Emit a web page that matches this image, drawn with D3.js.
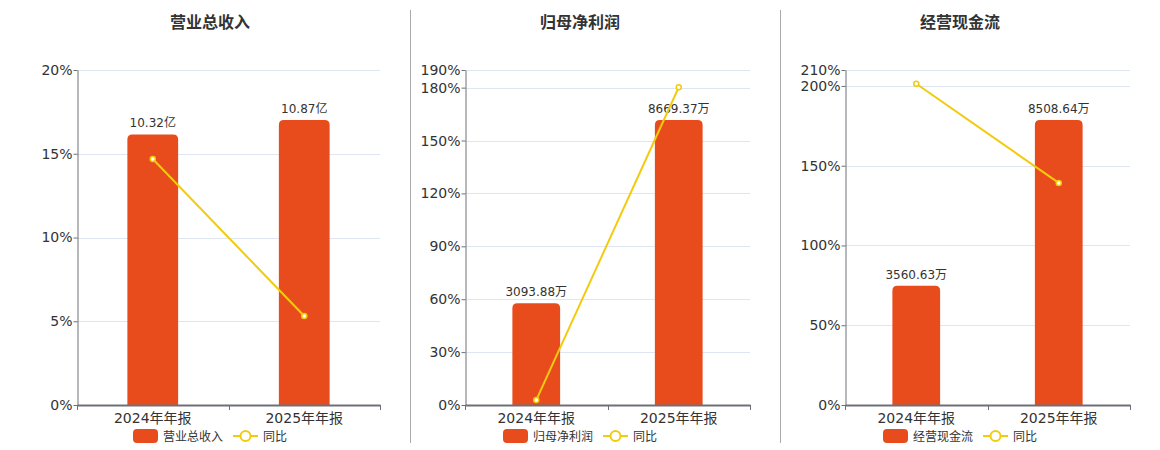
<!DOCTYPE html>
<html>
<head>
<meta charset="utf-8">
<script src="https://cdn.jsdelivr.net/npm/d3@7"></script>
<style>
	html, body { margin: 0; padding: 0; background: #fff; }
	svg { display: block; font-family: "DejaVu Sans", "Noto Sans CJK SC", sans-serif; }
</style>
</head>
<body>
<script>
	const periods = ["2024年年报", "2025年年报"];

	const titles = ["营业总收入", "归母净利润", "经营现金流"];
	const barValues = [
		[10.32, 10.87],
		[3093.88, 8669.37],
		[3560.63, 8508.64]
	];
	const barUnits = ["亿", "万", "万"];
	const yoyValues = [
		[14.69, 5.31],
		[2.8, 180.2],
		[201.4, 139.2]
	];
	const yoyMax = [20, 190, 210];
	const yoyStep = [5, 30, 50];
	const yoyName = "同比";

	const width = 1160, height = 450;
	const barColor = "#e84c1c";
	const lineColor = "#f2cb0f";
	const axisColor = "#6e7079";
	const gridColor = "#e0e6f1";

	// plot area per panel
	const panels = [
		{ left: 77, right: 380, center: 210 },
		{ left: 465, right: 750, center: 580 },
		{ left: 845, right: 1130, center: 960 }
	];
	const plotTop = 70, plotBottom = 405;
	const dividers = [410.5, 780.5];

	const svg = d3.select("body").append("svg")
		.attr("width", width)
		.attr("height", height);

	dividers.forEach(x => {
		svg.append("line")
			.attr("x1", x).attr("x2", x)
			.attr("y1", 10).attr("y2", 443)
			.attr("stroke", "#aaa")
			.attr("stroke-width", 1);
	});

	panels.forEach((p, i) => {
		const g = svg.append("g");

		const x = d3.scaleBand()
			.domain(periods)
			.range([p.left, p.right]);

		const y = d3.scaleLinear()
			.domain([0, yoyMax[i]])
			.range([plotBottom, plotTop]);

		// hidden scale for the bars, tallest bar at ~85% of the plot height
		const yBar = d3.scaleLinear()
			.domain([0, d3.max(barValues[i]) * 335 / 285])
			.range([plotBottom, plotTop]);

		g.append("text")
			.attr("x", p.center)
			.attr("y", 28)
			.attr("text-anchor", "middle")
			.attr("font-size", 16)
			.attr("font-weight", "bold")
			.attr("fill", "#333")
			.text(titles[i]);

		const ticks = d3.range(0, yoyMax[i] + 0.001, yoyStep[i]);
		if (ticks[ticks.length - 1] !== yoyMax[i]) ticks.push(yoyMax[i]);

		// grid
		g.append("g")
			.selectAll("line")
			.data(ticks.filter(t => t > 0))
			.join("line")
			.attr("x1", p.left).attr("x2", p.right)
			.attr("y1", d => Math.round(y(d)) + 0.5)
			.attr("y2", d => Math.round(y(d)) + 0.5)
			.attr("stroke", gridColor);

		// y axis
		const yAxis = g.append("g")
			.attr("transform", `translate(${p.left + 0.5},0)`)
			.call(d3.axisLeft(y).tickValues(ticks).tickSize(4).tickSizeOuter(0).tickFormat(d => d + "%"))
			.attr("font-family", null)
			.attr("font-size", 14);
		yAxis.select(".domain").attr("stroke", axisColor);
		yAxis.selectAll(".tick line").attr("stroke", axisColor);
		yAxis.selectAll(".tick text")
			.attr("fill", "#333")
			.attr("x", -5);

		// bars
		const bw = x.bandwidth() * 0.335;
		g.append("g")
			.selectAll("path")
			.data(barValues[i])
			.join("path")
			.attr("fill", barColor)
			.attr("d", (d, j) => {
				const cx = x(periods[j]) + x.bandwidth() / 2;
				const x0 = cx - bw / 2, x1 = cx + bw / 2;
				const y0 = yBar(d), y1 = plotBottom;
				const r = 5;
				return `M${x0},${y1} L${x0},${y0 + r} Q${x0},${y0} ${x0 + r},${y0} L${x1 - r},${y0} Q${x1},${y0} ${x1},${y0 + r} L${x1},${y1} Z`;
			});

		g.append("g")
			.selectAll("text")
			.data(barValues[i])
			.join("text")
			.attr("x", (d, j) => x(periods[j]) + x.bandwidth() / 2)
			.attr("y", d => yBar(d) - 7)
			.attr("text-anchor", "middle")
			.attr("font-size", 12)
			.attr("fill", "#333")
			.text(d => d.toFixed(2) + barUnits[i]);

		// x axis
		const xAxis = g.append("g")
			.attr("transform", `translate(0,${plotBottom})`)
			.call(d3.axisBottom(x).tickSize(0).tickPadding(8))
			.attr("font-family", null)
			.attr("font-size", 14);
		xAxis.select(".domain").attr("stroke", axisColor).attr("stroke-width", 2);
		xAxis.selectAll(".tick text")
			.attr("fill", "#333");
		xAxis.selectAll(".bound")
			.data([p.left, (p.left + p.right) / 2, p.right])
			.join("line")
			.attr("x1", d => Math.round(d) + 0.5).attr("x2", d => Math.round(d) + 0.5)
			.attr("y1", 0).attr("y2", 5)
			.attr("stroke", axisColor);

		// yoy line
		const pts = yoyValues[i].map((v, j) => [x(periods[j]) + x.bandwidth() / 2, y(v)]);
		g.append("path")
			.attr("d", d3.line()(pts))
			.attr("fill", "none")
			.attr("stroke", lineColor)
			.attr("stroke-width", 2);
		g.append("g")
			.selectAll("circle")
			.data(pts)
			.join("circle")
			.attr("cx", d => d[0])
			.attr("cy", d => d[1])
			.attr("r", 2.5)
			.attr("fill", "#fff")
			.attr("stroke", lineColor)
			.attr("stroke-width", 1.5);

		// legend
		const lx = p.center - 77, ly = 436;
		const leg = g.append("g");
		leg.append("rect")
			.attr("x", lx).attr("y", ly - 7)
			.attr("width", 25).attr("height", 14)
			.attr("rx", 4)
			.attr("fill", barColor);
		leg.append("text")
			.attr("x", lx + 30).attr("y", ly + 4.5)
			.attr("font-size", 12)
			.attr("fill", "#333")
			.text(titles[i]);
		const lx2 = lx + 100;
		leg.append("line")
			.attr("x1", lx2).attr("x2", lx2 + 25)
			.attr("y1", ly).attr("y2", ly)
			.attr("stroke", lineColor)
			.attr("stroke-width", 2);
		leg.append("circle")
			.attr("cx", lx2 + 12.5).attr("cy", ly)
			.attr("r", 5)
			.attr("fill", "#fff")
			.attr("stroke", lineColor)
			.attr("stroke-width", 2);
		leg.append("text")
			.attr("x", lx2 + 30).attr("y", ly + 4.5)
			.attr("font-size", 12)
			.attr("fill", "#333")
			.text(yoyName);
	});
</script>
</body>
</html>
